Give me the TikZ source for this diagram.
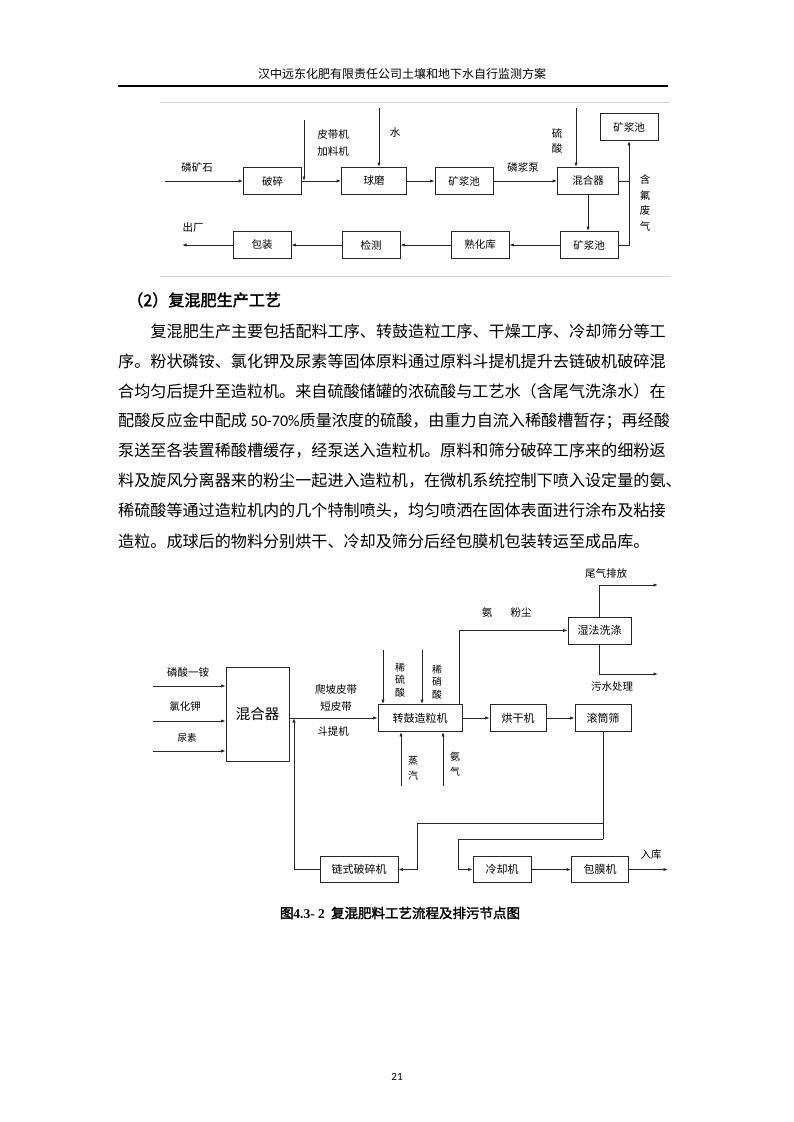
\documentclass[tikz,border=0pt]{standalone}
\usepackage{fontspec}
\setmainfont{Noto Sans CJK SC}
\newfontfamily\cjkbf[FakeBold=2]{Noto Sans CJK SC}
\newfontfamily\numfont{Carlito}
\newfontfamily\capnum{Liberation Serif}
\usetikzlibrary{arrows.meta}

\begin{document}
\begin{tikzpicture}[
        x=1pt, y=-1pt,
        every node/.style={inner sep=0pt},
        box/.style={rectangle, draw=black!85, line width=0.8pt, minimum width=58pt, minimum height=27pt, font=\fontsize{10.5}{12}\selectfont},
        arr/.style={-{Latex[length=4.5pt,width=3.2pt]}, line width=0.8pt, black!85},
        ln/.style={line width=0.8pt, black!85},
        lbl/.style={font=\fontsize{10.5}{17}\selectfont, align=center},
        vlbl/.style={font=\fontsize{10.5}{15.5}\selectfont, align=center},
        body/.style={anchor=west, font=\fontsize{16.1}{20}\selectfont}
    ]
    \fill[white] (0,0) rectangle (793,1122);
    \useasboundingbox (0,0) rectangle (793,1122);

    % page header
    \node[font=\fontsize{12}{14}\selectfont] (head) at (402,74) {汉中远东化肥有限责任公司土壤和地下水自行监测方案};
    \draw[line width=1.2pt] (118,86) -- (668,86);

    % --- figure 1 ---
    \draw[gray!35, line width=1pt] (160,102) -- (670,102);
    \draw[gray!35, line width=1pt] (160,276) -- (670,276);
    \node[box] (ps)   at (272.5,181) {破碎};
    \node[box, minimum width=65pt] (qm) at (374,181) {球磨};
    \node[box] (kjc)  at (464,181) {矿浆池};
    \node[box, minimum width=61pt] (hhq) at (588,181) {混合器};
    \node[box] (kjcs) at (629,127) {矿浆池};
    \node[box] (kjcx) at (589,245) {矿浆池};
    \node[box] (shk)  at (480,245) {熟化库};
    \node[box] (jc)   at (371,245) {检测};
    \node[box] (bz)   at (262,245) {包装};
    \coordinate (lks)  at (165,181);
    \coordinate (pd)   at (304,120);
    \coordinate (shui) at (379,108);
    \coordinate (ls)   at (576,108);
    \coordinate (cc)   at (182,245);
    \draw[arr] (lks) -- (ps);
    \draw[arr] (ps) -- (qm);
    \draw[arr] (pd) -- (pd |- ps.east);
    \draw[arr] (shui) -- (shui |- qm.north);
    \draw[arr] (qm) -- (kjc);
    \draw[arr] (kjc) -- (hhq);
    \draw[arr] (ls) -- (ls |- hhq.north);
    \draw[ln]  (hhq.east) -- (hhq.east -| kjcs.south);
    \draw[arr] (kjcx.east) -| (kjcs.south);
    \draw[arr] (hhq.south) -- (hhq.south |- kjcx.north);
    \draw[arr] (kjcx) -- (shk);
    \draw[arr] (shk) -- (jc);
    \draw[arr] (jc) -- (bz);
    \draw[arr] (bz) -- (cc);
    \node[lbl]  (lkst) at (197,168) {磷矿石};
    \node[lbl]  (pdt)  at (333,143.5) {皮带机\\加料机};
    \node[lbl]  (sht)  at (395,133) {水};
    \node[vlbl] (lst)  at (557,141) {硫\\酸};
    \node[lbl]  (ljbt) at (523,168) {磷浆泵};
    \node[vlbl] (hfqt) at (645,203) {含\\氟\\废\\气};
    \node[lbl]  (cct)  at (193,228) {出厂};

    % --- text ---
    \node[anchor=west, font=\cjkbf\fontsize{16.1}{20}\selectfont] (tit) at (127,300) {（2）复混肥生产工艺};
    \node[body] (t1) at (150.4,331) {复混肥生产主要包括配料工序、转鼓造粒工序、干燥工序、冷却筛分等工};
    \node[body] (t2) at (118,361) {序。粉状磷铵、氯化钾及尿素等固体原料通过原料斗提机提升去链破机破碎混};
    \node[body] (t3) at (118,391) {合均匀后提升至造粒机。来自硫酸储罐的浓硫酸与工艺水（含尾气洗涤水）在};
    \node[body] (t4) at (118,421) {配酸反应金中配成 {\numfont 50-70\%}质量浓度的硫酸，由重力自流入稀酸槽暂存；再经酸};
    \node[body] (t5) at (118,451) {泵送至各装置稀酸槽缓存，经泵送入造粒机。原料和筛分破碎工序来的细粉返};
    \node[body] (t6) at (118,481) {料及旋风分离器来的粉尘一起进入造粒机，在微机系统控制下喷入设定量的氨、};
    \node[body] (t7) at (118,511) {稀硫酸等通过造粒机内的几个特制喷头，均匀喷洒在固体表面进行涂布及粘接};
    \node[body] (t8) at (118,541) {造粒。成球后的物料分别烘干、冷却及筛分后经包膜机包装转运至成品库。};

    % --- figure 2 ---
    \node[box, minimum width=63pt, minimum height=94pt, font=\fontsize{14.5}{16}\selectfont] (hhq2) at (257.5,714) {混合器};
    \node[box, minimum width=84pt, font=\fontsize{11}{12}\selectfont] (zg) at (420,718) {转鼓造粒机};
    \node[box, minimum width=56pt, font=\fontsize{11}{12}\selectfont] (hg) at (518,718) {烘干机};
    \node[box, minimum width=56pt, font=\fontsize{11}{12}\selectfont] (gt) at (603,718) {滚筒筛};
    \node[box, minimum width=63pt, font=\fontsize{11}{12}\selectfont] (sf) at (599.5,630.5) {湿法洗涤};
    \node[box, minimum width=78pt, minimum height=26pt, font=\fontsize{11}{12}\selectfont] (ls2) at (359,869.5) {链式破碎机};
    \node[box, minimum width=58pt, minimum height=26pt, font=\fontsize{11}{12}\selectfont] (lq) at (502,869.5) {冷却机};
    \node[box, minimum width=57pt, minimum height=26pt, font=\fontsize{11}{12}\selectfont] (bm) at (600,869.5) {包膜机};
    \coordinate (in1) at (153,686);
    \coordinate (in2) at (153,721);
    \coordinate (in3) at (153,751);
    \coordinate (xls) at (383,650);
    \coordinate (xxs) at (422,650);
    \coordinate (zq)  at (401,786);
    \coordinate (aq)  at (443,786);
    \coordinate (wq)  at (658,585);
    \coordinate (ws)  at (658,674);
    \coordinate (dt)  at (294,718);
    \coordinate (fk1) at (603,823);
    \coordinate (fk2) at (603,839);
    \coordinate (zj1) at (417,823);
    \coordinate (zj2) at (458,839);
    \coordinate (rk)  at (668,869.5);
    \draw[arr] (in1) -- (in1 -| hhq2.west);
    \draw[arr] (in2) -- (in2 -| hhq2.west);
    \draw[arr] (in3) -- (in3 -| hhq2.west);
    \draw[arr] (zg.west -| hhq2.east) -- (zg.west);
    \draw[arr] (xls) -- (xls |- zg.north);
    \draw[arr] (xxs) -- (xxs |- zg.north);
    \draw[arr] (zq) -- (zq |- zg.south);
    \draw[arr] (aq) -- (aq |- zg.south);
    \draw[arr] ([xshift=-3pt]zg.north east) |- (sf.west);
    \draw[arr] (sf.north) |- (wq);
    \draw[arr] (sf.south) |- (ws);
    \draw[arr] (zg) -- (hg);
    \draw[arr] (hg) -- (gt);
    \draw[ln]  (gt.south) -- (fk2);
    \draw[arr] (fk1) -- (zj1) |- (ls2.east);
    \draw[arr] (fk2) -- (zj2) |- (lq.west);
    \draw[arr] (ls2.west) -| (dt);
    \draw[arr] (lq) -- (bm);
    \draw[arr] (bm) -- (rk);
    \node[lbl] (lsyat) at (188,673) {磷酸一铵};
    \node[lbl] (lhjt)  at (185,706) {氯化钾};
    \node[lbl, font=\fontsize{9.5}{12}\selectfont] (nst) at (187,738) {尿素};
    \node[lbl] (ppt)   at (336,698) {爬坡皮带\\短皮带};
    \node[lbl] (dtjt)  at (333,731) {斗提机};
    \node[vlbl, font=\fontsize{10}{12.5}\selectfont] (xlst) at (400,680) {稀\\硫\\酸};
    \node[vlbl, font=\fontsize{10}{12.5}\selectfont] (xxst) at (437,682) {稀\\硝\\酸};
    \node[vlbl, font=\fontsize{10}{15}\selectfont] (zqt) at (413,768) {蒸\\汽};
    \node[vlbl, font=\fontsize{10}{15}\selectfont] (aqt) at (455,764) {氨\\气};
    \node[lbl] (at)    at (487,612) {氨};
    \node[lbl] (fct)   at (521,612) {粉尘};
    \node[lbl] (wqt)   at (606,574) {尾气排放};
    \node[lbl] (wst)   at (612,687) {污水处理};
    \node[lbl] (rkt)   at (651,855) {入库};

    % caption and page number
    \node[font=\cjkbf\fontsize{13.5}{16}\selectfont] (cap) at (400,913) {图{\capnum\bfseries 4.3- 2}\ \ 复混肥料工艺流程及排污节点图};
    \node[font=\numfont\fontsize{11}{13}\selectfont] (pg) at (397,1077) {21};
\end{tikzpicture}
\end{document}
